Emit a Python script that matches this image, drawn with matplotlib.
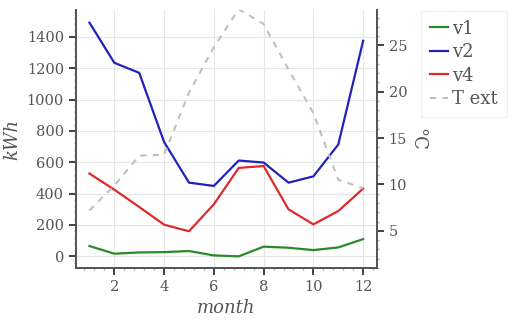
import matplotlib.pyplot as plt
from matplotlib.ticker import AutoMinorLocator

months = [1, 2, 3, 4, 5, 6, 7, 8, 9, 10, 11, 12]
v1 = [66, 17, 25, 27, 34, 6, 0, 62, 55, 40, 57, 110]
v2 = [1490, 1234, 1170, 729, 470, 449, 611, 598, 470, 510, 713, 1374]
v4 = [528, 425, 315, 202, 160, 332, 564, 576, 300, 204, 289, 432]
t_ext = [7.2, 9.9, 13.1, 13.2, 19.9, 24.8, 28.9, 27.3, 22.4, 17.7, 10.5, 9.6]

text_col = '#555555'
plt.rcParams['font.family'] = 'DejaVu Serif'
plt.rcParams['text.color'] = text_col

fig = plt.figure(figsize=(5.12, 3.26), dpi=100)
ax = fig.add_axes([0.148, 0.178, 0.588, 0.791])
ax2 = ax.twinx()

l1, = ax.plot(months, v1, color='#2a8a2a', lw=1.6, label='v1')
l2, = ax.plot(months, v2, color='#2222bb', lw=1.6, label='v2')
l4, = ax.plot(months, v4, color='#dd2a2a', lw=1.6, label='v4')
lt, = ax2.plot(months, t_ext, color='#c0c0c0', lw=1.5, ls=(0, (3, 3)),
               label='T ext')

ax.set_xlim(0.45, 12.55)
ax.set_ylim(-74, 1570)
ax2.set_ylim(1.0, 28.8)
ax.set_xticks([2, 4, 6, 8, 10, 12])
ax.set_yticks(range(0, 1401, 200))
ax2.set_yticks([5, 10, 15, 20, 25])
ax.xaxis.set_minor_locator(AutoMinorLocator(5))
ax.yaxis.set_minor_locator(AutoMinorLocator(5))
ax2.yaxis.set_minor_locator(AutoMinorLocator(5))

ax.grid(True, color='#e6e6e6', lw=0.8)
ax.set_axisbelow(True)

for a in (ax, ax2):
    a.tick_params(which='major', direction='out', length=5, width=1.3,
                  color='#333333', labelcolor=text_col, labelsize=10.5)
    a.tick_params(which='minor', direction='out', length=1.5, width=1,
                  color='#aaaaaa')
    a.spines['top'].set_visible(False)
    for s in ('left', 'bottom', 'right'):
        a.spines[s].set_color('#555555')
        a.spines[s].set_linewidth(1.3)

ax.set_xlabel('month', fontsize=13, style='italic', color=text_col)
ax.set_ylabel('kWh', fontsize=13, style='italic', color=text_col)
ax2.set_ylabel('°C', fontsize=13, color=text_col, rotation=270, labelpad=14)

leg = fig.legend(handles=[l1, l2, l4, lt], loc='upper left',
                 bbox_to_anchor=(0.805, 0.995), fontsize=13, handlelength=1.0,
                 handletextpad=0.2, labelspacing=0.3, frameon=True,
                 fancybox=False, borderpad=0.5)
leg.get_frame().set_edgecolor('#eeeeee')
leg.get_frame().set_linewidth(0.8)

plt.savefig('out.png', dpi=100)
